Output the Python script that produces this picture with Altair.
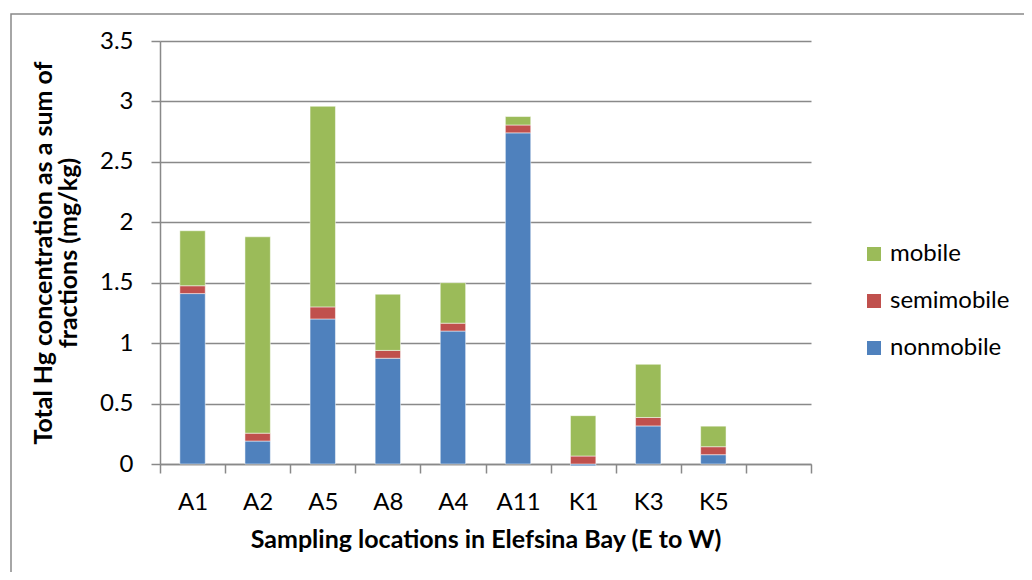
import altair as alt
import pandas as pd

# ---- data ----
sites = ["A1", "A2", "A5", "A8", "A4", "A11", "K1", "K3", "K5"]
nonmobile = [1.41, 0.19, 1.20, 0.875, 1.10, 2.74, -0.015, 0.315, 0.077]
semimobile = [0.065, 0.065, 0.10, 0.065, 0.065, 0.065, 0.066, 0.07, 0.066]
mobile = [0.455, 1.625, 1.66, 0.465, 0.335, 0.07, 0.334, 0.44, 0.17]

categories = sites + ["blank"]
fractions = ["mobile", "semimobile", "nonmobile"]
colors = ["#9BBB59", "#C0504D", "#4F81BD"]
y_ticks = [0, 0.5, 1, 1.5, 2, 2.5, 3, 3.5]

rows = []
for i, s in enumerate(sites):
    for rank, (f, vals) in enumerate((("nonmobile", nonmobile),
                                      ("semimobile", semimobile),
                                      ("mobile", mobile))):
        rows.append({"site": s, "fraction": f, "value": vals[i], "rank": rank})
df = pd.DataFrame(rows)

FONT = "Lato"
GRAY = "#898989"
LABEL_SIZE = 24
TITLE_SIZE = 25

bars = alt.Chart(df).mark_bar(
    width=alt.RelativeBandSize(0.39), stroke="white", strokeWidth=0.5
).encode(
    x=alt.X(
        "site:N",
        sort=categories,
        scale=alt.Scale(domain=categories, paddingInner=0, paddingOuter=0),
        axis=alt.Axis(
            title="Sampling locations in Elefsina Bay (E to W)",
            labelAngle=0,
            tickBand="extent",
            labelExpr="datum.value == 'blank' ? '' : datum.value",
            grid=False,
            tickSize=9,
            labelPadding=17,
            titleX=325.5,
            titleY=83,
            titleBaseline="alphabetic",
        ),
    ),
    y=alt.Y(
        "value:Q",
        stack="zero",
        scale=alt.Scale(domain=[0, 3.5], nice=False),
        axis=alt.Axis(
            values=y_ticks,
            format=".1~f",
            title=["Total Hg concentration as a sum of", "fractions  (mg/kg)"],
            titleX=-117,
            titleY=211.5,
            titleAngle=-90,
            titleBaseline="middle",
            titleLineHeight=25,
            tickSize=9,
            labelPadding=18,
            grid=True,
        ),
    ),
    color=alt.Color(
        "fraction:N",
        scale=alt.Scale(domain=fractions, range=colors),
        legend=alt.Legend(
            title=None,
            orient="none",
            legendX=702,
            legendY=201,
            symbolType="square",
            symbolSize=196,
            symbolStrokeWidth=0,
            labelFontSize=LABEL_SIZE,
            labelFont=FONT,
            labelColor="black",
            rowPadding=23,
            labelOffset=4,
        ),
    ),
    order=alt.Order("rank:Q", sort="ascending"),
)

border = alt.Chart(pd.DataFrame({"k": [0]})).mark_rect(
    fillOpacity=0, stroke=GRAY, strokeWidth=1.5
).encode(
    x=alt.value(-149), x2=alt.value(900), y=alt.value(-27), y2=alt.value(560)
)

chart = alt.layer(border, bars).properties(
    width=651,
    height=423,
    padding={"left": 152, "top": 33, "right": 213, "bottom": 108},
    autosize=alt.AutoSizeParams(type="none"),
    background="white",
).configure_view(
    strokeWidth=0
).configure_axis(
    domainColor=GRAY,
    domainWidth=1.5,
    tickColor=GRAY,
    tickWidth=1.5,
    gridColor=GRAY,
    gridWidth=1.5,
    labelFont=FONT,
    labelFontSize=LABEL_SIZE,
    labelColor="black",
    titleFont=FONT,
    titleFontSize=TITLE_SIZE,
    titleFontWeight="bold",
    titleColor="black",
)

chart.save("out.html", embed_options={"renderer": "svg", "actions": False})
